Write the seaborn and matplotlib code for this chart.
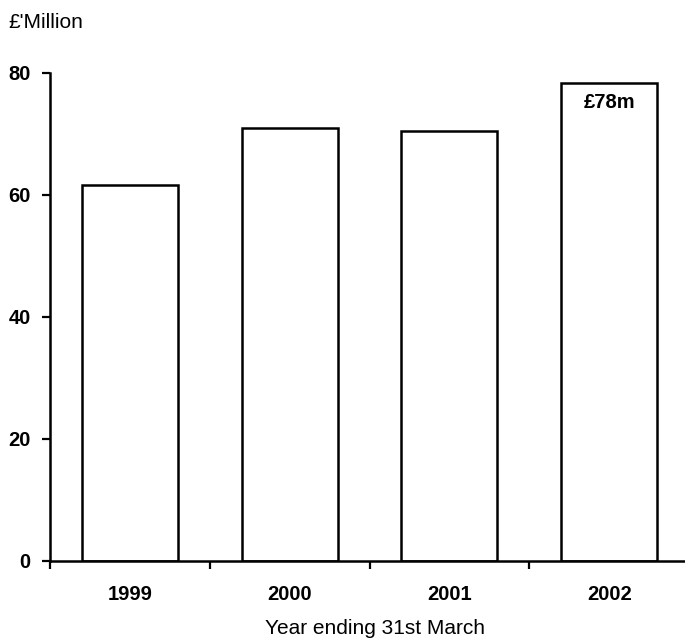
import matplotlib
matplotlib.use("Agg")
import matplotlib.pyplot as plt
import seaborn as sns
import pandas as pd

years = ["1999", "2000", "2001", "2002"]
values = [61.6, 71.0, 70.5, 78.4]
yticks = [0, 20, 40, 60, 80]
bar_label = "£78m"

sns.set_style("ticks", {"axes.edgecolor": "black", "text.color": "black",
                        "xtick.color": "black", "ytick.color": "black",
                        "axes.labelcolor": "black"})
plt.rcParams["font.family"] = ["Liberation Sans", "DejaVu Sans"]

df = pd.DataFrame({"year": years, "value": values})

fig = plt.figure(figsize=(6.85, 6.39), dpi=100)
ax = fig.add_axes([50 / 685, 1 - 561 / 639, 639 / 685, (561 - 73) / 639])

sns.barplot(data=df, x="year", y="value", ax=ax, color="white",
            edgecolor="black", linewidth=1.8, width=0.6, saturation=1)

ax.set_xlim(-0.5, 3.5)
ax.set_ylim(0, 80)
ax.set_yticks(yticks)
ax.set_yticklabels([str(t) for t in yticks], fontsize=14.5, fontweight="bold")
ax.set_xticks(range(len(years)))
ax.set_xticklabels(years, fontsize=14.5, fontweight="bold")
ax.set_xticks([-0.5, 0.5, 1.5, 2.5], minor=True)
ax.tick_params(axis="x", which="major", length=0, pad=17)
ax.tick_params(axis="x", which="minor", length=6, width=1.6, direction="out")
ax.tick_params(axis="y", which="major", length=6, width=1.6, direction="out", pad=8)
for s in ["top", "right"]:
    ax.spines[s].set_visible(False)
for s in ["left", "bottom"]:
    ax.spines[s].set_linewidth(1.8)
ax.set_xlabel("")
ax.set_ylabel("")

ax.text(3, values[3] - 3.2, bar_label, ha="center", va="center",
        fontsize=14.5, fontweight="bold", color="black")

fig.text(8 / 685, 1 - 22 / 639, "£'Million", ha="left", va="center",
         fontsize=15, color="black")
fig.text(375 / 685, 1 - 628 / 639, "Year ending 31st March", ha="center",
         va="center", fontsize=15, color="black")

fig.savefig("out.png", dpi=100)
